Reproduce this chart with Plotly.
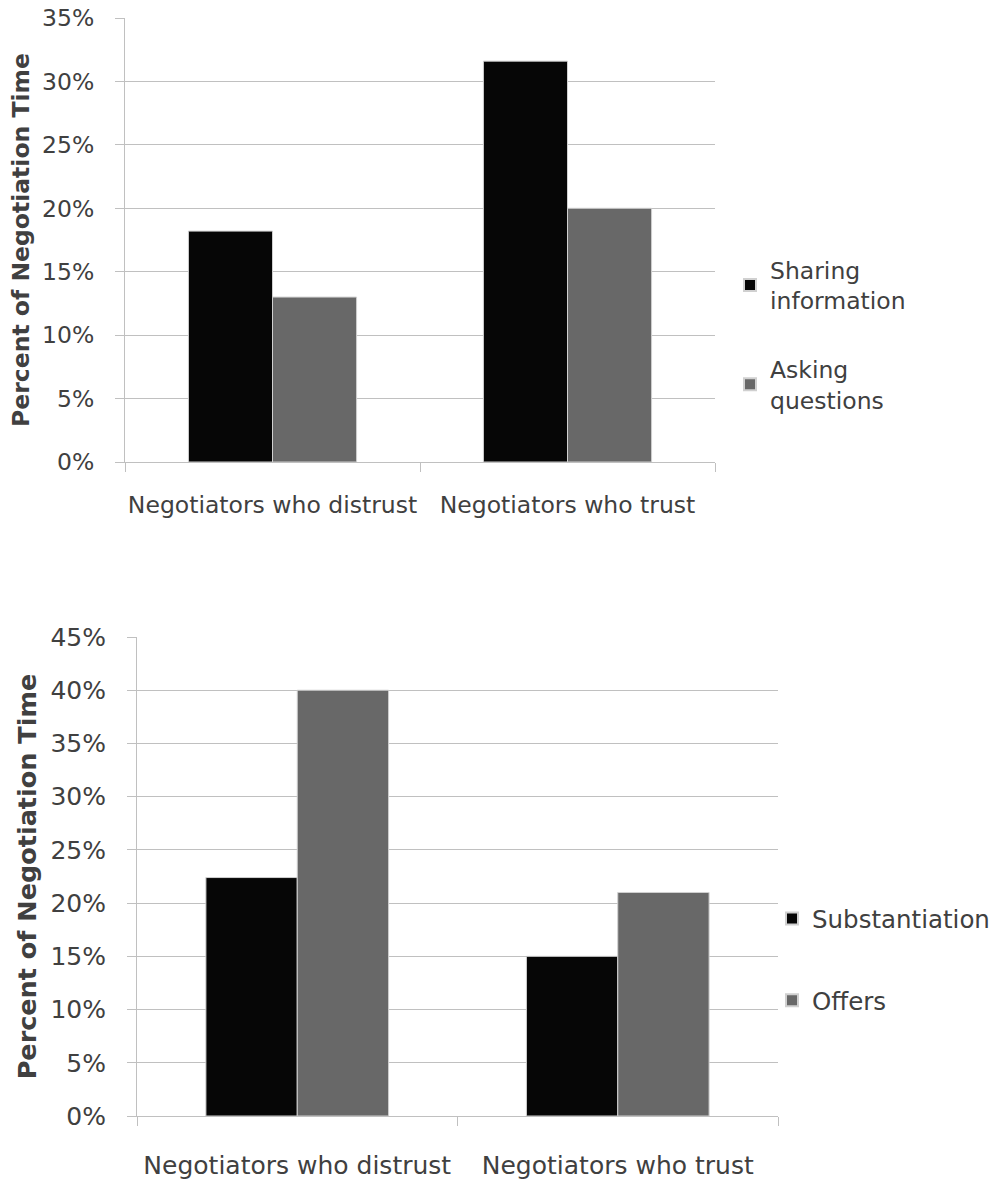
import plotly.graph_objects as go

categories = ["Negotiators who distrust", "Negotiators who trust"]

top_series = ["Sharing<br>information", "Asking<br>questions"]
top_values = [[0.182, 0.316], [0.130, 0.200]]

bottom_series = ["Substantiation", "Offers"]
bottom_values = [[0.224, 0.150], [0.400, 0.210]]

y_title = "Percent of Negotiation Time"
colors = ["#060606", "#686868"]

W, H = 995, 1182
FONT = "DejaVu Sans, Verdana, sans-serif"
TXT = "#404040"
GRID = "#c0c0c0"

fig = go.Figure()

for i, (name, vals) in enumerate(zip(top_series, top_values)):
    fig.add_trace(go.Bar(
        x=categories, y=vals, name=name,
        marker=dict(color=colors[i], line=dict(color="#d0d0d0", width=1)),
        xaxis="x", yaxis="y", legend="legend", legendgroup="t%d" % i,
    ))
for i, (name, vals) in enumerate(zip(bottom_series, bottom_values)):
    fig.add_trace(go.Bar(
        x=categories, y=vals, name=name,
        marker=dict(color=colors[i], line=dict(color="#d0d0d0", width=1)),
        xaxis="x2", yaxis="y2", legend="legend2", legendgroup="b%d" % i,
    ))

def xaxis(domain, anchor, fs, standoff):
    return dict(
        domain=domain, anchor=anchor, type="category", automargin=False,
        showline=True, linecolor=GRID, linewidth=1, tickangle=0,
        ticks="outside", tickson="boundaries", ticklen=9, tickcolor=GRID,
        tickfont=dict(family=FONT, size=fs, color=TXT),
        ticklabelstandoff=standoff, showgrid=False, zeroline=False, fixedrange=True,
    )

def yaxis(domain, anchor, rng, fs, tfs, tstand):
    return dict(
        domain=domain, anchor=anchor, range=rng, dtick=0.05, tickformat=".0%",
        automargin=False,
        showline=True, linecolor=GRID, linewidth=1,
        ticks="outside", ticklen=9, tickcolor=GRID,
        showgrid=True, gridcolor=GRID, gridwidth=1.3, zeroline=False,
        tickfont=dict(family=FONT, size=fs, color=TXT),
        ticklabelstandoff=16,
        title=dict(text="<b>%s</b>" % y_title, standoff=tstand,
                   font=dict(family=FONT, size=tfs, color=TXT)),
        fixedrange=True,
    )

fig.update_layout(
    width=W, height=H,
    margin=dict(l=0, r=0, t=0, b=0),
    paper_bgcolor="white", plot_bgcolor="white",
    barmode="group", bargap=0.43, bargroupgap=0,
    font=dict(family=FONT, color=TXT),
    xaxis=xaxis([125 / W, 715 / W], "y", 23.5, 22),
    yaxis=yaxis([1 - 462 / H, 1 - 18 / H], "x", [0, 0.35], 23.5, 23.5, 5),
    xaxis2=xaxis([137 / W, 778 / W], "y2", 25, 27),
    yaxis2=yaxis([1 - 1116 / H, 1 - 637 / H], "x2", [0, 0.45], 25, 25.5, 6),
    legend=dict(
        x=(770 - 40) / W, xanchor="left", y=1 - 248 / H, yanchor="top",
        font=dict(family=FONT, size=23.5, color=TXT), tracegroupgap=35,
        bgcolor="rgba(0,0,0,0)", itemsizing="constant",
    ),
    legend2=dict(
        x=(812 - 40) / W, xanchor="left", y=1 - 896 / H, yanchor="top",
        font=dict(family=FONT, size=24.5, color=TXT), tracegroupgap=47,
        bgcolor="rgba(0,0,0,0)", itemsizing="constant",
    ),
    showlegend=True,
)

fig.write_html("out.html")
